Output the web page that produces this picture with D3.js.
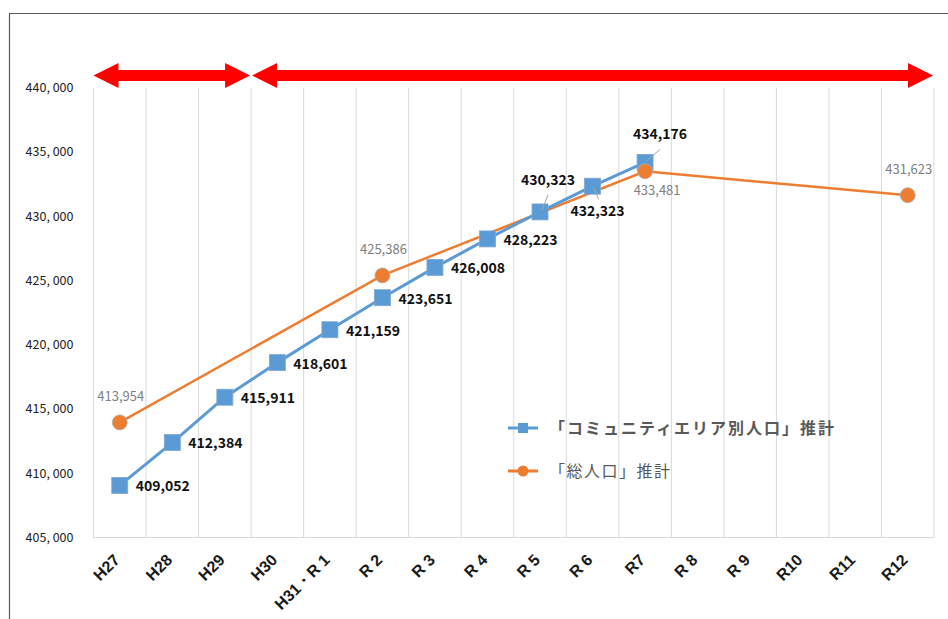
<!DOCTYPE html>
<html>
<head>
<meta charset="utf-8">
<script src="https://cdn.jsdelivr.net/npm/d3@7"></script>
<style>
  body { margin: 0; background: #fff; }
  svg { display: block; font-family: "Noto Sans CJK JP", "Noto Sans", sans-serif; }
</style>
</head>
<body>
<script>
// 年度（カテゴリ）
const categories = ["H27","H28","H29","H30","H31・R 1","R 2","R 3","R 4","R 5","R 6","R7","R 8","R 9","R10","R11","R12"];
// 「コミュニティエリア別人口」推計
const communityValues = [409052, 412384, 415911, 418601, 421159, 423651, 426008, 428223, 430323, 432323, 434176, null, null, null, null, null];
// 「総人口」推計
const totalValues = [413954, null, null, null, null, 425386, null, null, null, null, 433481, null, null, null, null, 431623];
const yTicks = [405000, 410000, 415000, 420000, 425000, 430000, 435000, 440000];
const seriesNames = ["「コミュニティエリア別人口」推計", "「総人口」推計"];

const W = 948, H = 619;
const svg = d3.select(document.body).append('svg')
  .attr('width', W).attr('height', H);

// 外枠
svg.append('path')
  .attr('d', `M9.5,${H} V13.5 H${W}`)
  .attr('fill', 'none').attr('stroke', '#595959').attr('stroke-width', 1.2);

const x = d3.scaleBand().domain(categories).range([93.5, 934]);
const y = d3.scaleLinear().domain([405000, 440000]).range([537.5, 87.5]);
const cx = c => x(c) + x.bandwidth() / 2;

// 縦グリッド線（カテゴリ境界）
const bounds = categories.map(c => x(c)).concat([x.range()[1]]);
svg.append('g').selectAll('line').data(bounds).join('line')
  .attr('x1', d => d).attr('x2', d => d)
  .attr('y1', y(440000)).attr('y2', y(405000))
  .attr('stroke', '#d9d9d9').attr('stroke-width', 1);
svg.append('line')
  .attr('x1', x.range()[0]).attr('x2', x.range()[1])
  .attr('y1', y(405000)).attr('y2', y(405000))
  .attr('stroke', '#d9d9d9').attr('stroke-width', 1.2);

// Y軸
const fmtY = d => d3.format(',')(d).replace(',', ', ');
const yAxis = svg.append('g')
  .attr('transform', `translate(${x.range()[0]},0)`)
  .call(d3.axisLeft(y).tickValues(yTicks).tickSize(0).tickPadding(20).tickFormat(fmtY));
yAxis.select('.domain').remove();
yAxis.selectAll('text').attr('font-size', 12.5).attr('fill', '#222')
  .attr('font-family', '"Noto Sans CJK JP", sans-serif');

// X軸（斜め45度のラベル）
const xAxis = svg.append('g')
  .attr('transform', `translate(0,${y(405000)})`)
  .call(d3.axisBottom(x).tickSize(0).tickPadding(0));
xAxis.select('.domain').remove();
xAxis.selectAll('text')
  .attr('font-size', 16).attr('font-weight', 'bold').attr('fill', '#1a1a1a')
  .attr('text-anchor', 'end')
  .attr('dy', 0)
  .attr('transform', 'translate(1,23.5) rotate(-45)');

// 赤い両矢印
function doubleArrow(x0, x1, yc) {
  const head = 25, hh = 12.5, sh = 5.5;
  const p = [
    [x0, yc], [x0 + head, yc - hh], [x0 + head, yc - sh], [x1 - head, yc - sh], [x1 - head, yc - hh],
    [x1, yc], [x1 - head, yc + hh], [x1 - head, yc + sh], [x0 + head, yc + sh], [x0 + head, yc + hh]
  ];
  svg.append('path').attr('d', d3.line()(p) + 'Z').attr('fill', '#ff0000');
}
doubleArrow(x('H27'), x('H30') - 1, 75.5);
doubleArrow(x('H30') + 1, x.range()[1] - 1, 75.5);

// 総人口 系列（欠損をつなぐ）
const totalPts = totalValues.map((v, i) => ({c: categories[i], v, i})).filter(d => d.v != null);
svg.append('path')
  .attr('d', d3.line().x(d => cx(d.c)).y(d => y(d.v))(totalPts))
  .attr('fill', 'none').attr('stroke', '#ed7d31').attr('stroke-width', 2.5);

// コミュニティ系列
const commPts = communityValues.map((v, i) => ({c: categories[i], v, i})).filter(d => d.v != null);
svg.append('path')
  .attr('d', d3.line().x(d => cx(d.c)).y(d => y(d.v))(commPts))
  .attr('fill', 'none').attr('stroke', '#5b9bd5').attr('stroke-width', 3);
svg.append('g').selectAll('rect').data(commPts).join('rect')
  .attr('x', d => cx(d.c) - 8).attr('y', d => y(d.v) - 8)
  .attr('width', 16).attr('height', 16)
  .attr('fill', '#5b9bd5').attr('stroke', '#7fa7cf').attr('stroke-width', 0.8);

svg.append('g').selectAll('circle').data(totalPts).join('circle')
  .attr('cx', d => cx(d.c)).attr('cy', d => y(d.v)).attr('r', 7.5)
  .attr('fill', '#ed7d31').attr('stroke', '#b0b0b0').attr('stroke-width', 0.8);

// データラベル（コミュニティ）
const fmt = d3.format(',');
const commLabelPos = {
  8: {dx: 8, dy: -32, lead: [[8, -17], [2, -2]]},
  9: {dx: 5, dy: 25, lead: [[1, 1], [6, 13]]},
  10: {dx: 15, dy: -28, lead: [[15, -13], [2, -2]]}
};
commPts.forEach(d => {
  const px = cx(d.c), py = y(d.v);
  const p = commLabelPos[d.i];
  if (p) {
    svg.append('line')
      .attr('x1', px + p.lead[0][0]).attr('y1', py + p.lead[0][1])
      .attr('x2', px + p.lead[1][0]).attr('y2', py + p.lead[1][1])
      .attr('stroke', '#a6a6a6').attr('stroke-width', 1);
    svg.append('text').attr('x', px + p.dx).attr('y', py + p.dy)
      .attr('text-anchor', 'middle').attr('dy', '0.35em')
      .attr('font-size', 14).attr('font-weight', 'bold').attr('fill', '#111')
      .text(fmt(d.v));
  } else {
    svg.append('text').attr('x', px + 16).attr('y', py + 1)
      .attr('dy', '0.35em')
      .attr('font-size', 14).attr('font-weight', 'bold').attr('fill', '#111')
      .text(fmt(d.v));
  }
});

// データラベル（総人口）
const totalLabelPos = {10: {dx: 12, dy: 19}};
totalPts.forEach(d => {
  const p = totalLabelPos[d.i] || {dx: 1, dy: -26};
  svg.append('text').attr('x', cx(d.c) + p.dx).attr('y', y(d.v) + p.dy)
    .attr('text-anchor', 'middle').attr('dy', '0.35em')
    .attr('font-size', 13).attr('fill', '#808080')
    .text(fmt(d.v));
});

// 凡例
const legend = svg.append('g').attr('transform', 'translate(508,428)');
legend.append('line').attr('x1', 0).attr('x2', 30).attr('y1', 0).attr('y2', 0)
  .attr('stroke', '#5b9bd5').attr('stroke-width', 3);
legend.append('rect').attr('x', 10).attr('y', -5).attr('width', 10).attr('height', 10)
  .attr('fill', '#5b9bd5');
legend.append('text').attr('x', 41).attr('y', 0).attr('dy', '0.35em')
  .attr('font-size', 16).attr('letter-spacing', 2).attr('font-weight', 'bold').attr('fill', '#595959')
  .text(seriesNames[0]);
legend.append('line').attr('x1', 0).attr('x2', 30).attr('y1', 43).attr('y2', 43)
  .attr('stroke', '#ed7d31').attr('stroke-width', 3);
legend.append('circle').attr('cx', 15).attr('cy', 43).attr('r', 5.5)
  .attr('fill', '#ed7d31');
legend.append('text').attr('x', 41).attr('y', 43).attr('dy', '0.35em')
  .attr('font-size', 16).attr('letter-spacing', 1.5).attr('fill', '#595959')
  .text(seriesNames[1]);
</script>
</body>
</html>
